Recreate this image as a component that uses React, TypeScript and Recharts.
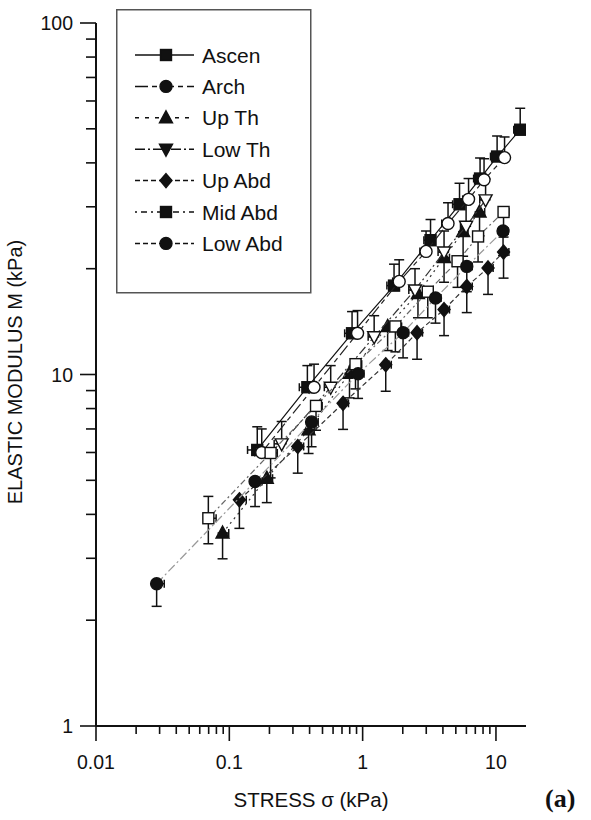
import React from "react";
import { ScatterChart, Scatter, XAxis, YAxis, ErrorBar, Legend } from "recharts";

// ---- axis ticks ----
const xTicks = [
  0.01, 0.02, 0.03, 0.04, 0.05, 0.06, 0.07, 0.08, 0.09,
  0.1, 0.2, 0.3, 0.4, 0.5, 0.6, 0.7, 0.8, 0.9,
  1, 2, 3, 4, 5, 6, 7, 8, 9,
  10,
];
const xMajor = [0.01, 0.1, 1, 10];
const xMajorLabels = ["0.01", "0.1", "1", "10"];

const yTicks = [
  1, 2, 3, 4, 5, 6, 7, 8, 9,
  10, 20, 30, 40, 50, 60, 70, 80, 90,
  100,
];
const yMajor = [1, 10, 100];
const yMajorLabels = ["1", "10", "100"];

// ---- series: stress (kPa), modulus (kPa), error [minus, plus] ----
const seriesNames = ["Ascen", "Arch", "Up Th", "Low Th", "Up Abd", "Mid Abd", "Low Abd"];

const ascenX = [0.162, 0.385, 0.833, 1.72, 3.23, 5.33, 7.6, 10.2, 15.2];
const ascenY = [6.1, 9.2, 13.1, 17.9, 24.1, 30.5, 36.1, 41.7, 49.7];
const ascenEy: [number, number][] = [[0, 1.0], [0, 1.4], [0, 2.0], [0, 2.7], [0, 3.5], [0, 4.5], [0, 5.2], [0, 6.0], [0, 7.5]];
const ascenEx: [number, number][] = [[0.025, 0], [0.05, 0], [0.1, 0], [0.2, 0], [0.35, 0], [0.6, 0], [0.8, 0], [1.1, 0], [1.6, 0]];

const archX = [0.175, 0.432, 0.916, 1.88, 2.99, 4.37, 6.23, 8.14, 11.6];
const archY = [6.0, 9.2, 13.1, 18.4, 22.4, 26.9, 31.5, 35.8, 41.4];
const archEy: [number, number][] = [[0, 1.0], [0, 1.5], [0, 2.1], [0, 2.8], [0, 3.2], [0, 3.9], [0, 4.6], [0, 5.3], [0, 6.0]];
const archEx: [number, number][] = [[0.02, 0], [0.045, 0], [0.1, 0], [0.2, 0], [0.3, 0], [0.45, 0], [0.6, 0], [0.8, 0], [1.2, 0]];

const upThX = [0.089, 0.191, 0.393, 0.797, 1.54, 2.6, 4.08, 5.67, 7.53];
const upThY = [3.54, 5.07, 6.96, 10.08, 13.7, 17.0, 21.5, 25.5, 29.0];
const upThEy: [number, number][] = [[0.55, 0], [0.75, 0], [1.0, 0], [1.5, 0], [2.0, 0], [2.5, 0], [3.2, 0], [3.8, 0], [4.2, 0]];
const upThEx: [number, number][] = [[0, 0.01], [0, 0.02], [0, 0.04], [0, 0.08], [0, 0.15], [0, 0.25], [0, 0.4], [0, 0.5], [0, 0.7]];

const lowThX = [0.247, 0.576, 1.22, 2.47, 4.08, 5.97, 8.36];
const lowThY = [6.35, 9.2, 12.8, 17.4, 22.3, 26.4, 31.4];
const lowThEy: [number, number][] = [[0, 1.0], [0, 1.4], [0, 1.9], [0, 2.6], [0, 3.3], [0, 4.0], [0, 4.6]];
const lowThEx: [number, number][] = [[0.03, 0], [0.06, 0], [0.12, 0], [0.25, 0], [0.4, 0], [0.55, 0], [0.8, 0]];

const upAbdX = [0.119, 0.326, 0.713, 1.49, 2.56, 4.08, 6.04, 8.72, 11.4];
const upAbdY = [4.4, 6.24, 8.28, 10.66, 13.15, 15.3, 17.8, 20.1, 22.3];
const upAbdEy: [number, number][] = [[0.75, 0], [1.0, 0], [1.3, 0], [1.7, 0], [2.1, 0], [2.4, 0], [2.8, 0], [3.2, 0], [3.5, 0]];
const upAbdEx: [number, number][] = [[0, 0.015], [0, 0.035], [0, 0.07], [0, 0.15], [0, 0.25], [0, 0.4], [0, 0.6], [0, 0.8], [0, 1.1]];

const midAbdX = [0.0696, 0.204, 0.447, 0.884, 1.76, 3.08, 5.15, 7.34, 11.4];
const midAbdY = [3.9, 5.98, 8.14, 10.7, 13.7, 17.2, 21.0, 24.7, 29.0];
const midAbdEy: [number, number][] = [[0.6, 0.6], [0.9, 0], [1.2, 0], [1.6, 0], [2.1, 0], [2.7, 0], [3.3, 0], [3.8, 0], [4.4, 0]];
const midAbdEx: [number, number][] = [[0, 0.01], [0, 0.025], [0, 0.05], [0, 0.1], [0, 0.2], [0, 0.3], [0, 0.5], [0, 0.7], [0, 1.1]];

const lowAbdX = [0.0285, 0.156, 0.414, 0.924, 2.01, 3.52, 6.04, 11.3];
const lowAbdY = [2.54, 4.96, 7.33, 10.05, 13.15, 16.5, 20.3, 25.6];
const lowAbdEy: [number, number][] = [[0.35, 0], [0.75, 0], [1.1, 0], [1.5, 0], [2.0, 0], [2.5, 0], [3.1, 0], [3.8, 0]];
const lowAbdEx: [number, number][] = [[0, 0.004], [0, 0.02], [0, 0.05], [0, 0.1], [0, 0.2], [0, 0.35], [0, 0.6], [0, 1.0]];

type Row = { x: number; y: number; ey: [number, number]; ex: [number, number] };

const rows = (xs: number[], ys: number[], ey: [number, number][], ex: [number, number][]): Row[] =>
  xs.map((x, i) => ({ x, y: ys[i], ey: ey[i], ex: ex[i] }));

type Kind = "square" | "circle" | "up" | "down" | "diamond";

const series = [
  { name: seriesNames[0], data: rows(ascenX, ascenY, ascenEy, ascenEx), kind: "square" as Kind, filled: true, color: "#111", dash: undefined, legendDash: undefined },
  { name: seriesNames[1], data: rows(archX, archY, archEy, archEx), kind: "circle" as Kind, filled: false, color: "#222", dash: "12 4 5 4", legendDash: "13 4 5 4" },
  { name: seriesNames[2], data: rows(upThX, upThY, upThEy, upThEx), kind: "up" as Kind, filled: true, color: "#333", dash: "2 4", legendDash: "4 6" },
  { name: seriesNames[3], data: rows(lowThX, lowThY, lowThEy, lowThEx), kind: "down" as Kind, filled: false, color: "#333", dash: "9 3 2 3", legendDash: "10 3 2 3" },
  { name: seriesNames[4], data: rows(upAbdX, upAbdY, upAbdEy, upAbdEx), kind: "diamond" as Kind, filled: true, color: "#333", dash: "5 3", legendDash: "5 3" },
  { name: seriesNames[5], data: rows(midAbdX, midAbdY, midAbdEy, midAbdEx), kind: "square" as Kind, filled: false, color: "#666", dash: "2 3 6 3", legendDash: "2 4 6 4" },
  { name: seriesNames[6], data: rows(lowAbdX, lowAbdY, lowAbdEy, lowAbdEx), kind: "circle" as Kind, filled: true, color: "#999", dash: "9 3 2 3", legendDash: "5 3" },
];

function Marker({ kind, filled, cx, cy }: { kind: Kind; filled: boolean; cx: number; cy: number }) {
  const paint = { fill: filled ? "#111" : "#fff", stroke: "#111", strokeWidth: 1.4 };
  switch (kind) {
    case "square":
      return <rect x={cx - 5.5} y={cy - 5.5} width={11} height={11} {...paint} />;
    case "circle":
      return <circle cx={cx} cy={cy} r={6} {...paint} />;
    case "up":
      return <polygon points={`${cx},${cy - 7} ${cx + 6.5},${cy + 5} ${cx - 6.5},${cy + 5}`} {...paint} />;
    case "down":
      return <polygon points={`${cx},${cy + 7} ${cx + 6.5},${cy - 5} ${cx - 6.5},${cy - 5}`} {...paint} />;
    default:
      return <polygon points={`${cx},${cy - 7} ${cx + 6},${cy} ${cx},${cy + 7} ${cx - 6},${cy}`} {...paint} />;
  }
}

const XTick = (props: any) => {
  const { x, y, payload } = props;
  const idx = xMajor.indexOf(payload.value);
  const major = idx >= 0;
  return (
    <g>
      <line x1={x} x2={x} y1={y} y2={y + (major ? 15 : 8)} stroke="#111" strokeWidth={1.6} />
      {major && (
        <text x={x} y={y + 43} textAnchor="middle" fontSize={19.5} fill="#111">
          {xMajorLabels[idx]}
        </text>
      )}
    </g>
  );
};

const YTick = (props: any) => {
  const { x, y, payload } = props;
  const idx = yMajor.indexOf(payload.value);
  const major = idx >= 0;
  return (
    <g>
      <line x1={x - (major ? 16 : 10)} x2={x} y1={y} y2={y} stroke="#111" strokeWidth={1.6} />
      {major && (
        <text x={x - 23} y={y + 7} textAnchor="end" fontSize={19.5} fill="#111">
          {yMajorLabels[idx]}
        </text>
      )}
    </g>
  );
};

const YTitle = () => (
  <text transform="translate(22,372) rotate(-90)" textAnchor="middle" fontSize={20} fill="#111">
    ELASTIC MODULUS M (kPa)
  </text>
);

const LegendBox = () => (
  <svg width={196} height={285}>
    <rect x={0.75} y={0.75} width={194} height={283} fill="#fff" stroke="#555" strokeWidth={1.5} />
    {series.map((s, i) => {
      const cy = 46 + i * 31.4;
      return (
        <g key={s.name}>
          <line x1={19} x2={78} y1={cy} y2={cy} stroke="#111" strokeWidth={1.5} strokeDasharray={s.legendDash} />
          <Marker kind={s.kind} filled cx={50} cy={cy} />
          <text x={86} y={cy + 7.5} fontSize={21} fill="#111">
            {s.name}
          </text>
        </g>
      );
    })}
  </svg>
);

export default function App() {
  return (
    <div style={{ position: "absolute", left: 0, top: 0, width: 591, height: 820, background: "#fff", fontFamily: "'Liberation Sans', Arial, sans-serif" }}>
      <ScatterChart width={591} height={820} margin={{ top: 23, right: 65, bottom: 0, left: 0 }}>
        <XAxis
          type="number"
          dataKey="x"
          scale="log"
          domain={[0.01, 16.8]}
          allowDataOverflow
          ticks={xTicks}
          interval={0}
          tick={<XTick />}
          tickSize={0}
          tickMargin={0}
          tickLine={false}
          height={94}
          axisLine={{ stroke: "#111", strokeWidth: 2 }}
          label={{ value: "STRESS σ (kPa)", position: "insideBottom", offset: 13, fontSize: 20.5, fill: "#111" }}
        />
        <YAxis
          type="number"
          dataKey="y"
          scale="log"
          domain={[1, 100]}
          allowDataOverflow
          ticks={yTicks}
          interval={0}
          tick={<YTick />}
          tickSize={0}
          tickMargin={0}
          tickLine={false}
          width={96}
          axisLine={{ stroke: "#111", strokeWidth: 2 }}
          label={<YTitle />}
        />
        <Legend
          layout="vertical"
          align="center"
          verticalAlign="middle"
          wrapperStyle={{ left: 116, top: 9, width: 196, height: 285 }}
          content={() => <LegendBox />}
        />
        {series.map((s) => (
          <Scatter
            key={s.name}
            name={s.name}
            data={s.data}
            isAnimationActive={false}
            line={{ stroke: s.color, strokeWidth: 1.2, strokeDasharray: s.dash }}
            lineType="joint"
            shape={(p: any) => <Marker kind={s.kind} filled={s.filled} cx={p.cx} cy={p.cy} />}
          >
            <ErrorBar dataKey="ey" direction="y" width={5} stroke="#111" strokeWidth={1.5} isAnimationActive={false} />
            <ErrorBar dataKey="ex" direction="x" width={4} stroke="#111" strokeWidth={1.5} isAnimationActive={false} />
          </Scatter>
        ))}
      </ScatterChart>
      <span style={{ position: "absolute", left: 545, top: 786, fontFamily: "'Liberation Serif', 'Times New Roman', serif", fontWeight: "bold", fontSize: 26, lineHeight: 1, color: "#111" }}>
        (a)
      </span>
    </div>
  );
}
